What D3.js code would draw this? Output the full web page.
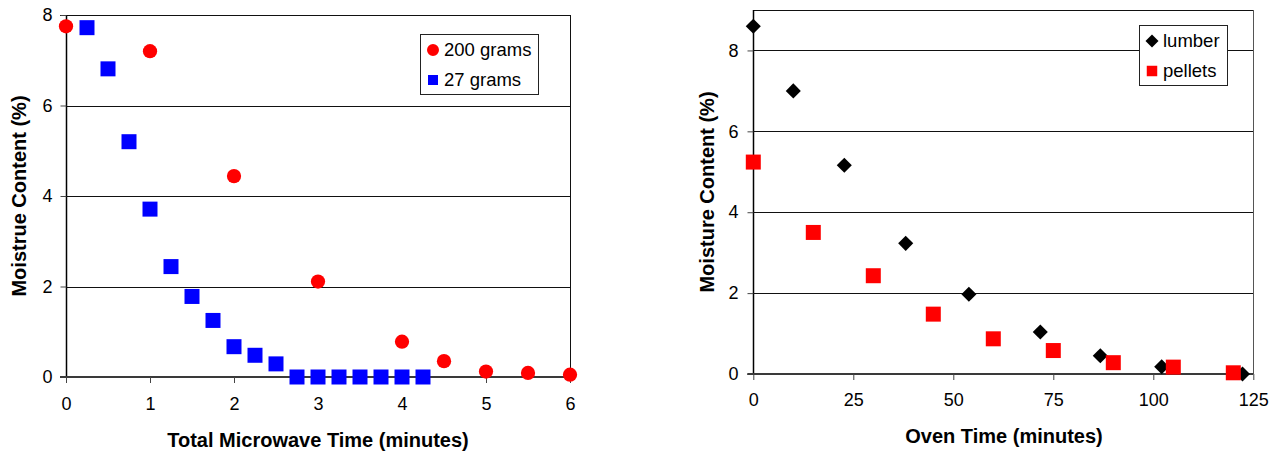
<!DOCTYPE html>
<html><head><meta charset="utf-8">
<script src="https://cdn.jsdelivr.net/npm/d3@7"></script>
<style>
body{margin:0;background:#fff;}
svg{display:block;font-family:"Liberation Sans",Arial,sans-serif;}
</style></head><body>
<svg id="c" width="1278" height="454"></svg>
<script>
// ---- Left chart data ----
const micro200X = [0, 1, 2, 3, 4, 4.5, 5, 5.5, 6];
const micro200Y = [7.75, 7.2, 4.44, 2.11, 0.78, 0.35, 0.12, 0.09, 0.05];
const micro27X = [0.25, 0.5, 0.75, 1, 1.25, 1.5, 1.75, 2, 2.25, 2.5, 2.75, 3, 3.25, 3.5, 3.75, 4, 4.25];
const micro27Y = [7.72, 6.81, 5.2, 3.71, 2.44, 1.78, 1.25, 0.67, 0.48, 0.29, 0, 0, 0, 0, 0, 0, 0];
const leftXTicks = [0, 1, 2, 3, 4, 5, 6];
const leftYTicks = [0, 2, 4, 6, 8];
const leftSeries = ["200 grams", "27 grams"];

// ---- Right chart data ----
const lumberX = [0, 10, 22.75, 38.1, 53.9, 71.75, 86.75, 102.1, 122.3];
const lumberY = [8.6, 7.0, 5.16, 3.23, 1.97, 1.04, 0.45, 0.18, 0.0];
const pelletsX = [0, 15, 30, 45, 60, 75, 90, 105, 120];
const pelletsY = [5.24, 3.5, 2.43, 1.48, 0.87, 0.58, 0.28, 0.17, 0.03];
const rightXTicks = [0, 25, 50, 75, 100, 125];
const rightYTicks = [0, 2, 4, 6, 8];
const rightSeries = ["lumber", "pellets"];

const svg = d3.select("#c");

function drawChart(cfg) {
  const g = svg.append("g");
  const x = d3.scaleLinear().domain(cfg.xDomain).range([cfg.left, cfg.right]);
  const y = d3.scaleLinear().domain(cfg.yDomain).range([cfg.bottom, cfg.top]);

  // gridlines
  g.append("g").selectAll("line").data(cfg.yTicks.filter(d => d > 0)).join("line")
    .attr("x1", cfg.left).attr("x2", cfg.right)
    .attr("y1", d => Math.round(y(d)) + 0.5).attr("y2", d => Math.round(y(d)) + 0.5)
    .attr("stroke", "#111").attr("stroke-width", 1);
  // top and right border
  g.append("line").attr("x1", cfg.left - (cfg.topTick ? 6 : 0)).attr("x2", cfg.right + 0.5)
    .attr("y1", Math.round(cfg.top) + 0.5).attr("y2", Math.round(cfg.top) + 0.5)
    .attr("stroke", "#111");
  g.append("line").attr("x1", Math.round(cfg.right) + 0.5).attr("x2", Math.round(cfg.right) + 0.5)
    .attr("y1", cfg.top).attr("y2", cfg.bottom)
    .attr("stroke", cfg.rightColor);

  // y axis
  const yAxis = d3.axisLeft(y).tickValues(cfg.yTicks).tickSize(6).tickPadding(cfg.yPad).tickFormat(d3.format("d"));
  const ya = g.append("g").attr("transform", `translate(${Math.round(cfg.left) + 0.5},0)`).call(yAxis);
  ya.select(".domain").attr("stroke", "#000").attr("stroke-width", 1.5).attr("d", `M0,${cfg.top}V${cfg.bottom}`);
  ya.selectAll(".tick line").attr("stroke", "#444");
  ya.selectAll(".tick text").attr("font-size", 18).attr("fill", "#000").attr("font-family", "Liberation Sans, Arial, sans-serif");

  // x axis
  const xAxis = d3.axisBottom(x).tickValues(cfg.xTicks).tickSize(6).tickPadding(cfg.xPad).tickFormat(d3.format("d"));
  const xa = g.append("g").attr("transform", `translate(0,${Math.round(cfg.bottom)})`).call(xAxis);
  xa.select(".domain").attr("stroke", "#3a3a3a").attr("stroke-width", 2.2).attr("d", `M${cfg.left - 6},0H${cfg.right}`);
  xa.selectAll(".tick line").attr("stroke", "#444");
  xa.selectAll(".tick text").attr("font-size", 18).attr("fill", "#000").attr("font-family", "Liberation Sans, Arial, sans-serif");

  // axis titles
  g.append("text").attr("x", cfg.xTitleX).attr("y", cfg.xTitleY).attr("text-anchor", "middle")
    .attr("font-size", 20).attr("font-weight", "bold").text(cfg.xTitle);
  g.append("text").attr("transform", `translate(${cfg.yTitleX},${cfg.yTitleY}) rotate(-90)`)
    .attr("text-anchor", "middle").attr("font-size", 20).attr("font-weight", "bold").text(cfg.yTitle);

  // series
  const marks = g.append("g");
  cfg.series.forEach(s => {
    const pts = s.xs.map((v, i) => [v, s.ys[i]]);
    marks.append("g").selectAll("path").data(pts).join("path")
      .attr("transform", d => `translate(${x(d[0])},${y(d[1])})`)
      .attr("d", d3.symbol().type(s.symbol).size(s.size)())
      .attr("fill", s.color);
  });

  // legend
  const lg = g.append("g");
  lg.append("rect").attr("x", cfg.legend.x + 0.5).attr("y", cfg.legend.y + 0.5)
    .attr("width", cfg.legend.w).attr("height", cfg.legend.h)
    .attr("fill", "#fff").attr("stroke", "#222").attr("stroke-width", 1);
  cfg.series.forEach((s, i) => {
    const cy = cfg.legend.y + cfg.legend.firstY + i * cfg.legend.step;
    lg.append("path").attr("transform", `translate(${cfg.legend.x + cfg.legend.symX},${cy})`)
      .attr("d", d3.symbol().type(s.symbol).size(s.legSize)()).attr("fill", s.color);
    lg.append("text").attr("x", cfg.legend.x + cfg.legend.textX).attr("y", cy + 6)
      .attr("font-size", 18.5).text(s.name);
  });
}

drawChart({
  xDomain: [0, 6], yDomain: [0, 8],
  left: 66, right: 570, top: 15, bottom: 377, topTick: true,
  xTicks: leftXTicks, yTicks: leftYTicks, yPad: 8, xPad: 14,
  rightColor: "#111",
  xTitle: "Total Microwave Time (minutes)", xTitleX: 318, xTitleY: 447,
  yTitle: "Moistrue Content (%)", yTitleX: 26, yTitleY: 196,
  series: [
    {name: leftSeries[0], xs: micro200X, ys: micro200Y, symbol: d3.symbolCircle, size: 160, legSize: 113, color: "#ff0000"},
    {name: leftSeries[1], xs: micro27X, ys: micro27Y, symbol: d3.symbolSquare, size: 225, legSize: 100, color: "#0000ff"}
  ],
  legend: {x: 420, y: 34, w: 118, h: 60, symX: 13, textX: 24, firstY: 16, step: 30}
});

drawChart({
  xDomain: [0, 125], yDomain: [0, 9],
  left: 753.3, right: 1253.3, top: 10, bottom: 374, topTick: false,
  xTicks: rightXTicks, yTicks: rightYTicks, yPad: 9, xPad: 13,
  rightColor: "#555",
  xTitle: "Oven Time (minutes)", xTitleX: 1004, xTitleY: 443,
  yTitle: "Moisture Content (%)", yTitleX: 714, yTitleY: 192,
  series: [
    {name: rightSeries[0], xs: lumberX, ys: lumberY, symbol: d3.symbolDiamond2, size: 145, legSize: 108, color: "#000"},
    {name: rightSeries[1], xs: pelletsX, ys: pelletsY, symbol: d3.symbolSquare, size: 225, legSize: 110, color: "#ff0000"}
  ],
  legend: {x: 1139, y: 25, w: 88, h: 60, symX: 13, textX: 24, firstY: 16, step: 30}
});
</script>
</body></html>
